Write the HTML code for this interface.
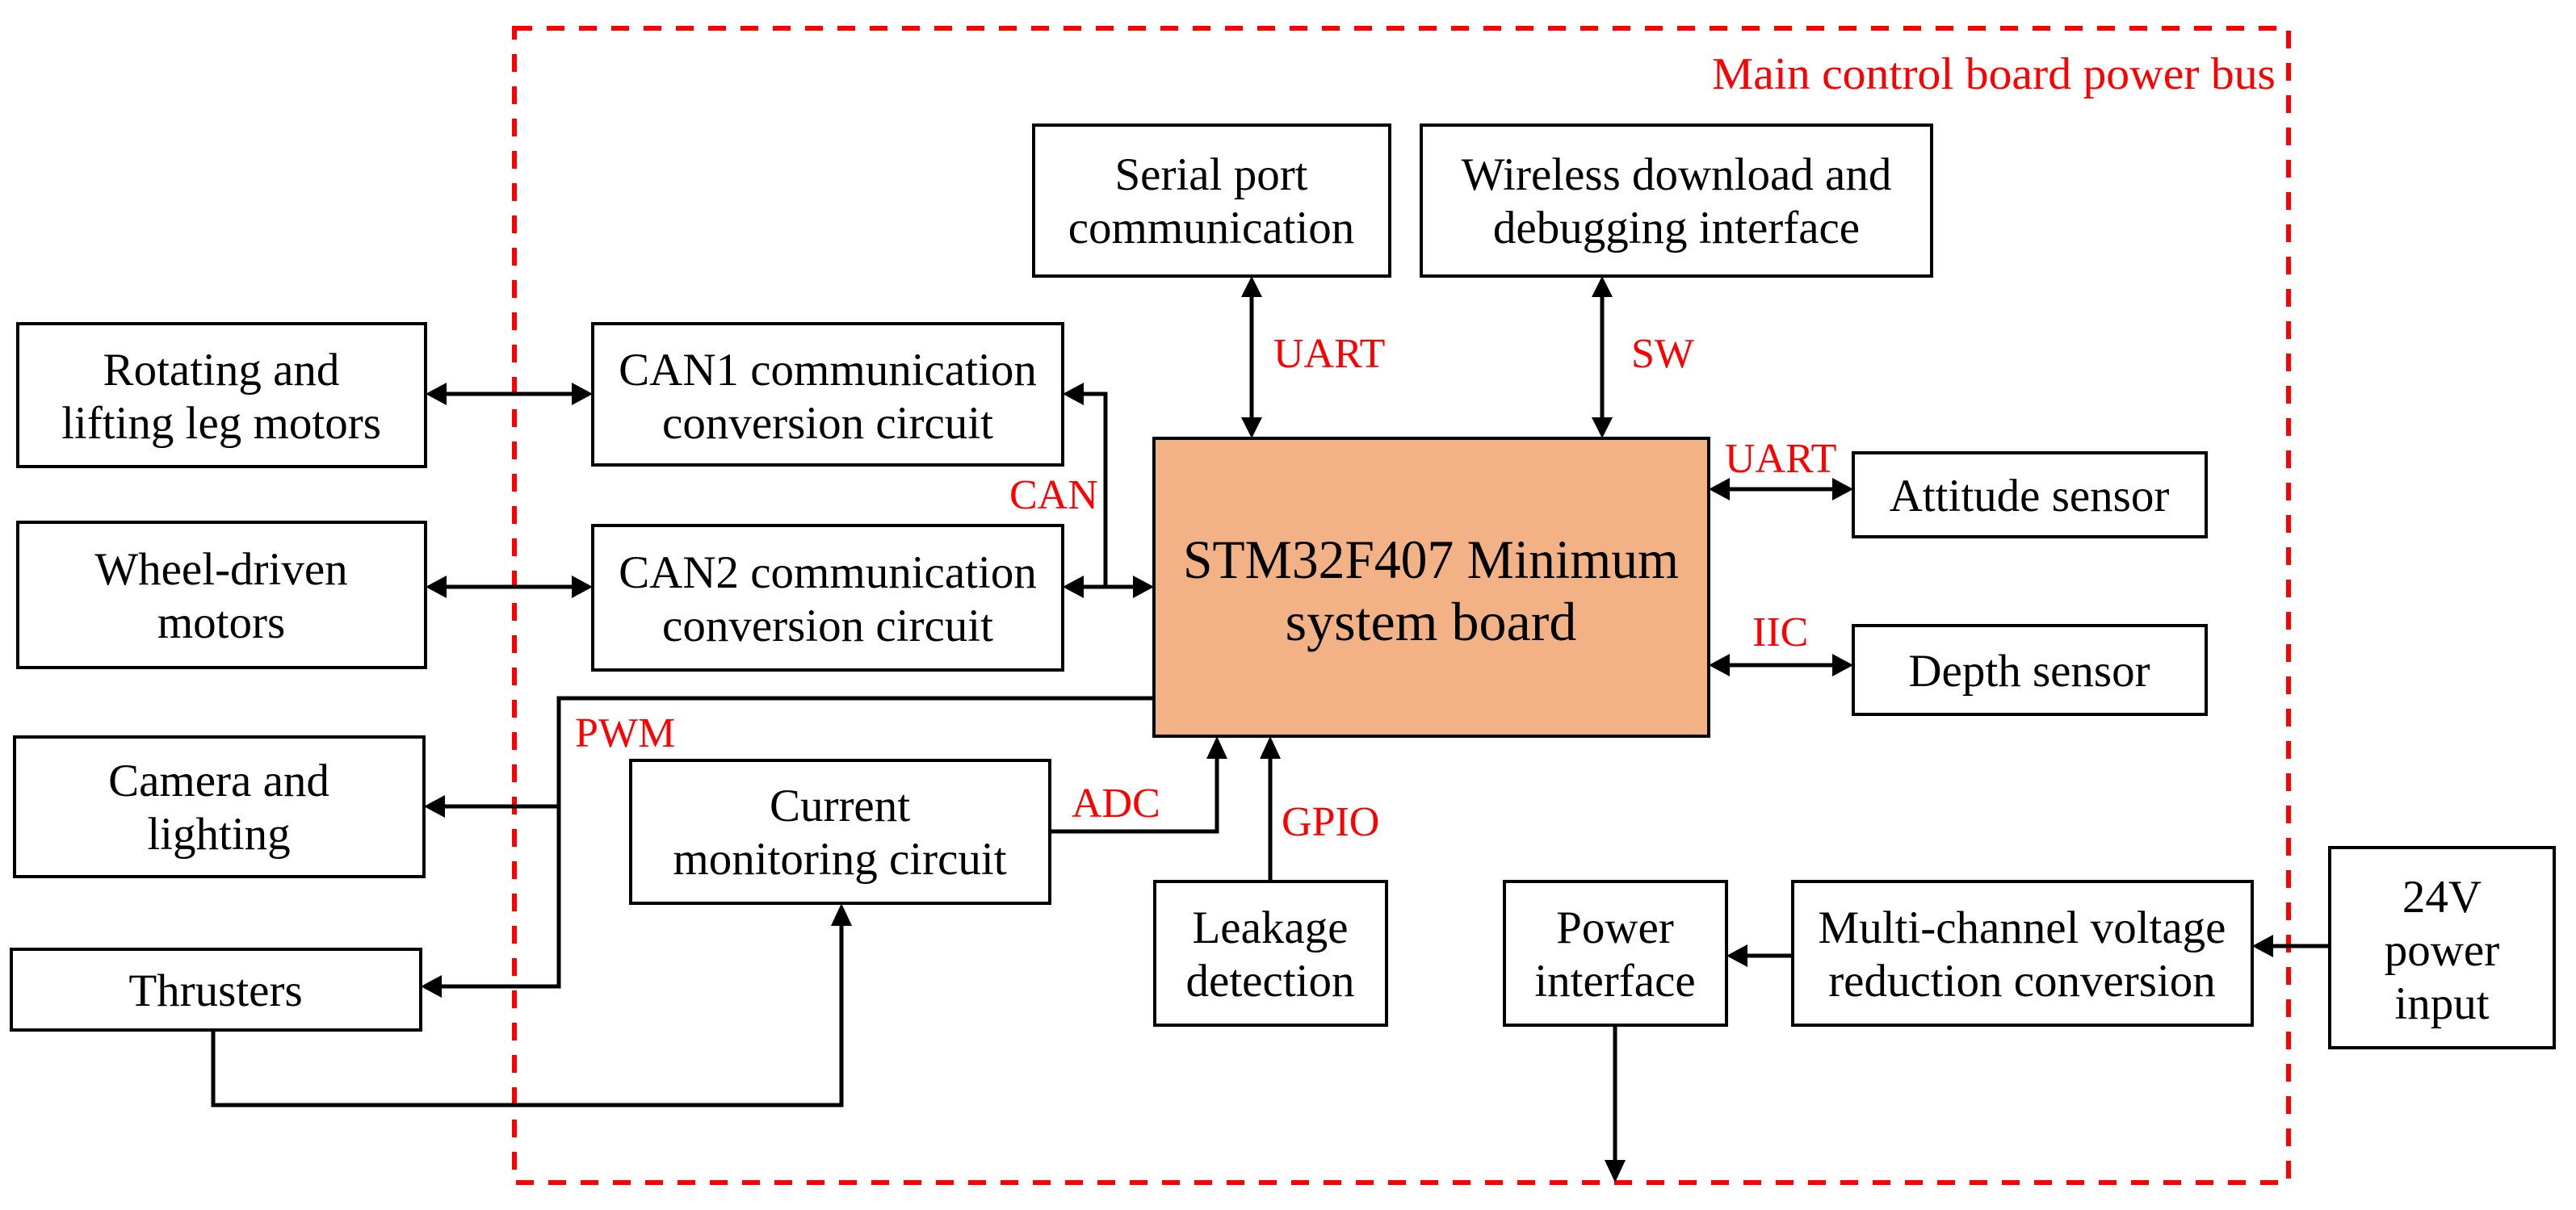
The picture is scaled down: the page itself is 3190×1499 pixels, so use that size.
<!DOCTYPE html>
<html><head><meta charset="utf-8"><style>
html,body{margin:0;padding:0;background:#fff;}
svg{display:block;}
text{font-family:"Liberation Serif",serif;}
.b{font-size:57px;fill:#000;text-anchor:middle;}
.r{font-size:52px;fill:#f00;}
</style></head><body>
<svg width="3190" height="1499" viewBox="0 0 3190 1499" xmlns="http://www.w3.org/2000/svg">
<rect x="637" y="35" width="2197" height="1430" fill="none" stroke="#f00" stroke-width="6" stroke-dasharray="22 18"/>
<text x="2818" y="110" class="r" text-anchor="end" style="font-size:56px" textLength="698" lengthAdjust="spacingAndGlyphs">Main control board power bus</text>

<g fill="#fff" stroke="#000" stroke-width="4">
<rect x="22" y="401" width="505" height="177"/>
<rect x="22" y="647" width="505" height="180"/>
<rect x="18" y="913" width="507" height="173"/>
<rect x="14" y="1176" width="507" height="100"/>
<rect x="734" y="401" width="582" height="175"/>
<rect x="734" y="651" width="582" height="179"/>
<rect x="781" y="942" width="519" height="177"/>
<rect x="1280" y="155" width="441" height="187"/>
<rect x="1760" y="155" width="632" height="187"/>
<rect x="1429" y="543" width="687" height="369" fill="#f3b186"/>
<rect x="2295" y="561" width="437" height="104"/>
<rect x="2295" y="775" width="437" height="110"/>
<rect x="1430" y="1092" width="287" height="178"/>
<rect x="1863" y="1092" width="275" height="178"/>
<rect x="2220" y="1092" width="569" height="178"/>
<rect x="2885" y="1050" width="278" height="248"/>
</g>

<text class="b" x="274" y="477">Rotating and</text>
<text class="b" x="274" y="543">lifting leg motors</text>
<text class="b" x="274" y="724">Wheel-driven</text>
<text class="b" x="274" y="790">motors</text>
<text class="b" x="271" y="986">Camera and</text>
<text class="b" x="271" y="1052">lighting</text>
<text class="b" x="267" y="1246">Thrusters</text>
<text class="b" x="1025" y="477">CAN1 communication</text>
<text class="b" x="1025" y="543">conversion circuit</text>
<text class="b" x="1025" y="728">CAN2 communication</text>
<text class="b" x="1025" y="794">conversion circuit</text>
<text class="b" x="1040" y="1017">Current</text>
<text class="b" x="1040" y="1083">monitoring circuit</text>
<text class="b" x="1500" y="235">Serial port</text>
<text class="b" x="1500" y="301">communication</text>
<text class="b" x="2076" y="235">Wireless download and</text>
<text class="b" x="2076" y="301">debugging interface</text>
<text class="b" x="1772" y="716" style="font-size:68px" textLength="614" lengthAdjust="spacingAndGlyphs">STM32F407 Minimum</text>
<text class="b" x="1772" y="793" style="font-size:68px">system board</text>
<text class="b" x="2513" y="633">Attitude sensor</text>
<text class="b" x="2513" y="850">Depth sensor</text>
<text class="b" x="1573" y="1168">Leakage</text>
<text class="b" x="1573" y="1234">detection</text>
<text class="b" x="2000" y="1168">Power</text>
<text class="b" x="2000" y="1234">interface</text>
<text class="b" x="2504" y="1168">Multi-channel voltage</text>
<text class="b" x="2504" y="1234">reduction conversion</text>
<text class="b" x="3024" y="1130">24V</text>
<text class="b" x="3024" y="1196">power</text>
<text class="b" x="3024" y="1262">input</text>

<text class="r" x="1250" y="630">CAN</text>
<text class="r" x="1577" y="455">UART</text>
<text class="r" x="2020" y="455">SW</text>
<text class="r" x="2136" y="585">UART</text>
<text class="r" x="2170" y="800">IIC</text>
<text class="r" x="712" y="925">PWM</text>
<text class="r" x="1327" y="1012">ADC</text>
<text class="r" x="1587" y="1035">GPIO</text>

<g fill="none" stroke="#000" stroke-width="5">
<line x1="540" y1="488" x2="720" y2="488"/>
<line x1="540" y1="727" x2="720" y2="727"/>
<polyline points="1330,488 1369,488 1369,727"/>
<line x1="1330" y1="727" x2="1415" y2="727"/>
<line x1="1550" y1="356" x2="1550" y2="529"/>
<line x1="1984" y1="356" x2="1984" y2="529"/>
<line x1="2130" y1="606" x2="2281" y2="606"/>
<line x1="2130" y1="824" x2="2281" y2="824"/>
<polyline points="1429,865 692,865 692,1222 540,1222"/>
<line x1="692" y1="999" x2="540" y2="999"/>
<polyline points="1300,1030 1507,1030 1507,930"/>
<line x1="1573" y1="1092" x2="1573" y2="930"/>
<polyline points="264,1276 264,1369 1042,1369 1042,1135"/>
<line x1="2000" y1="1270" x2="2000" y2="1448"/>
<line x1="2220" y1="1184" x2="2152" y2="1184"/>
<line x1="2885" y1="1172" x2="2803" y2="1172"/>
</g>
<g fill="#000">
<polygon points="527,488 553,474 553,502"/>
<polygon points="734,488 708,474 708,502"/>
<polygon points="527,727 553,713 553,741"/>
<polygon points="734,727 708,713 708,741"/>
<polygon points="1316,488 1342,474 1342,502"/>
<polygon points="1316,727 1342,713 1342,741"/>
<polygon points="1429,727 1403,713 1403,741"/>
<polygon points="1550,342 1537,368 1563,368"/>
<polygon points="1550,543 1537,517 1563,517"/>
<polygon points="1984,342 1971,368 1997,368"/>
<polygon points="1984,543 1971,517 1997,517"/>
<polygon points="2116,606 2142,592 2142,620"/>
<polygon points="2295,606 2269,592 2269,620"/>
<polygon points="2116,824 2142,810 2142,838"/>
<polygon points="2295,824 2269,810 2269,838"/>
<polygon points="525,999 551,985 551,1013"/>
<polygon points="521,1222 547,1208 547,1236"/>
<polygon points="1507,912 1494,940 1520,940"/>
<polygon points="1573,912 1560,940 1586,940"/>
<polygon points="1042,1119 1029,1147 1055,1147"/>
<polygon points="2000,1465 1987,1437 2013,1437"/>
<polygon points="2138,1184 2164,1170 2164,1198"/>
<polygon points="2789,1172 2815,1158 2815,1186"/>
</g>
</svg>
</body></html>
